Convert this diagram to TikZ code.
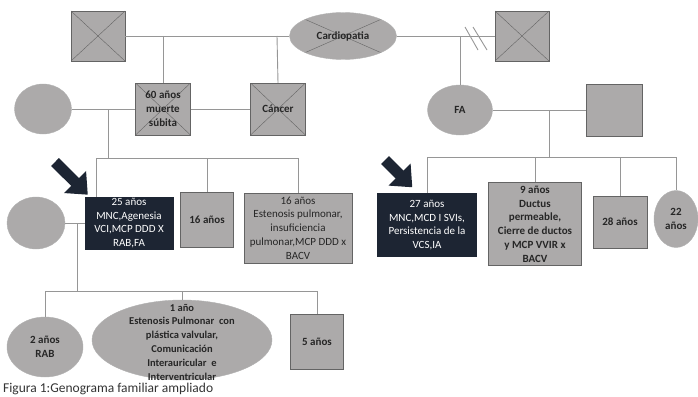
\documentclass[tikz,border=0pt]{standalone}
\usepackage{fontspec}
\setmainfont{Carlito}
\usetikzlibrary{shapes.geometric,arrows.meta}
\definecolor{gen}{RGB}{172,170,170}
\definecolor{edge}{RGB}{100,100,100}
\definecolor{linegray}{RGB}{150,150,150}
\definecolor{navy}{RGB}{29,37,51}
\tikzset{
  male/.style={draw=edge, fill=gen, align=center, inner sep=1pt, text=black!85,
    font=\fontsize{11}{13.8}\selectfont\bfseries, minimum width=54pt, minimum height=50pt},
  female/.style={ellipse, draw=edge!50, fill=gen, align=center, inner sep=0pt, text=black!85,
    font=\fontsize{11}{13.8}\selectfont\bfseries},
  dead/.style={path picture={\draw[edge] (path picture bounding box.north west) -- (path picture bounding box.south east)
    (path picture bounding box.north east) -- (path picture bounding box.south west);}},
  index/.style={fill=navy, draw=navy, text=white, font=\fontsize{11}{13.8}\selectfont},
  note/.style={align=center, inner sep=0pt, text=black!85, font=\fontsize{10.5}{13.8}\selectfont\bfseries},
  link/.style={draw=linegray, line width=0.9pt},
  pointer/.style={-{Triangle[length=18pt,width=30pt]}, line width=11pt, navy}
}
\begin{document}
\begin{tikzpicture}[x=1pt,y=-1pt]
  \useasboundingbox (0,0) rectangle (698,396);
  \node[male,dead] (gfa) at (98,36) {};
  \node[female,dead,minimum width=107pt,minimum height=47pt] (gmo) at (343,36) {Cardiopatia};
  \node[male,dead] (gfb) at (522,36) {};
  \draw[link] (gfa) -- (gmo);
  \draw[link] (gmo) -- (gfb);
  \draw[link] (465,27) -- (478,50);
  \draw[link] (473,27) -- (487,50);
  \node[female,minimum width=57pt,minimum height=50pt] (wife) at (43,109) {};
  \node[male,dead,minimum width=55pt,minimum height=52pt] (uncle) at (163,109) {60 años\\muerte\\súbita};
  \node[male,dead,minimum width=55pt,minimum height=52pt] (cancer) at (278,109) {Cáncer};
  \node[female,minimum width=65pt,minimum height=50pt] (fa) at (460,110) {FA};
  \node[male,minimum width=56pt,minimum height=52pt] (dad) at (614,110) {};
  \coordinate (m1a) at (163,36);
  \coordinate (m1b) at (277,36);
  \coordinate (m1c) at (460,36);
  \draw[link] (m1a) -- (uncle.north);
  \draw[link] (m1b) -- (cancer.north);
  \draw[link] (m1c) -- (fa.north);
  \draw[link] (wife) -- (uncle);
  \draw[link] (uncle) -- (cancer);
  \draw[link] (fa) -- (dad);
  \node[female,minimum width=58pt,minimum height=52pt] (sp3) at (36,223) {};
  \node[male,index,minimum width=88pt,minimum height=52pt] (pro1) at (129,223) {25 años\\MNC,Agenesia\\VCI,MCP DDD X\\RAB,FA};
  \node[male,minimum width=53pt,minimum height=55pt] (s16) at (207,220) {16 años};
  \node[male,minimum width=108pt,minimum height=70pt,font=\fontsize{11}{13.8}\selectfont] (s16b) at (298,228) {16 años\\Estenosis pulmonar,\\insuficiencia\\pulmonar,MCP DDD x\\BACV};
  \coordinate (m2a) at (108,109);
  \coordinate (s2a) at (108,158);
  \coordinate (k1) at (96,158);
  \draw[link] (m2a) -- (s2a);
  \draw[link] (k1) -- (s16b.north |- s2a);
  \draw[link] (k1) -- (k1 |- pro1.north);
  \foreach \c in {s16,s16b}
    \draw[link] (\c.north |- s2a) -- (\c.north);
  \node[male,index,minimum width=99pt,minimum height=63pt] (pro2) at (427,225) {27 años\\MNC,MCD I SVIs,\\Persistencia de la\\VCS,IA};
  \node[male,minimum width=93pt,minimum height=83pt] (nine) at (535,224) {9 años\\Ductus\\permeable,\\Cierre de ductos\\y MCP VVIR x\\BACV};
  \node[male,minimum width=54pt,minimum height=52pt] (t28) at (620,222) {28 años};
  \node[female,minimum width=44pt,minimum height=57pt] (t22) at (676,219) {22\\años};
  \coordinate (m2b) at (549,110);
  \coordinate (s2b) at (549,157);
  \draw[link] (m2b) -- (s2b);
  \draw[link] (pro2.north |- s2b) -- (t22.north |- s2b);
  \foreach \c in {pro2,nine,t28,t22}
    \draw[link] (\c.north |- s2b) -- (\c.north);
  \coordinate (a1) at (55,162);
  \coordinate (a2) at (385,160);
  \draw[pointer] (a1) -- ([xshift=3pt,yshift=2pt]pro1.north west);
  \draw[pointer] (a2) -- ([xshift=35pt,yshift=6pt]pro2.north west);
  \draw[link] (sp3) -- (pro1);
  \node[female,minimum width=76pt,minimum height=60pt] (rab) at (45,347) {2 años\\RAB};
  \node[female,minimum width=180pt,minimum height=80pt] (one) at (182,340) {};
  \node[note] (onetxt) at (182,342) {1 año\\Estenosis Pulmonar\ \ con\\plástica valvular,\\Comunicación\\Interauricular\ \ e\\Interventricular};
  \node[male,minimum width=53pt,minimum height=55pt] (five) at (317,342) {5 años};
  \coordinate (m3) at (77,223);
  \coordinate (s3) at (77,291);
  \draw[link] (m3) -- (s3);
  \draw[link] (rab.north |- s3) -- (five.north |- s3);
  \foreach \c in {rab,one,five}
    \draw[link] (\c.north |- s3) -- (\c.north);
  \node[anchor=west,inner sep=0pt,text=black!80,font=\fontsize{13.5}{15}\selectfont] (cap) at (3,389) {Figura 1:Genograma familiar ampliado};
\end{tikzpicture}
\end{document}
